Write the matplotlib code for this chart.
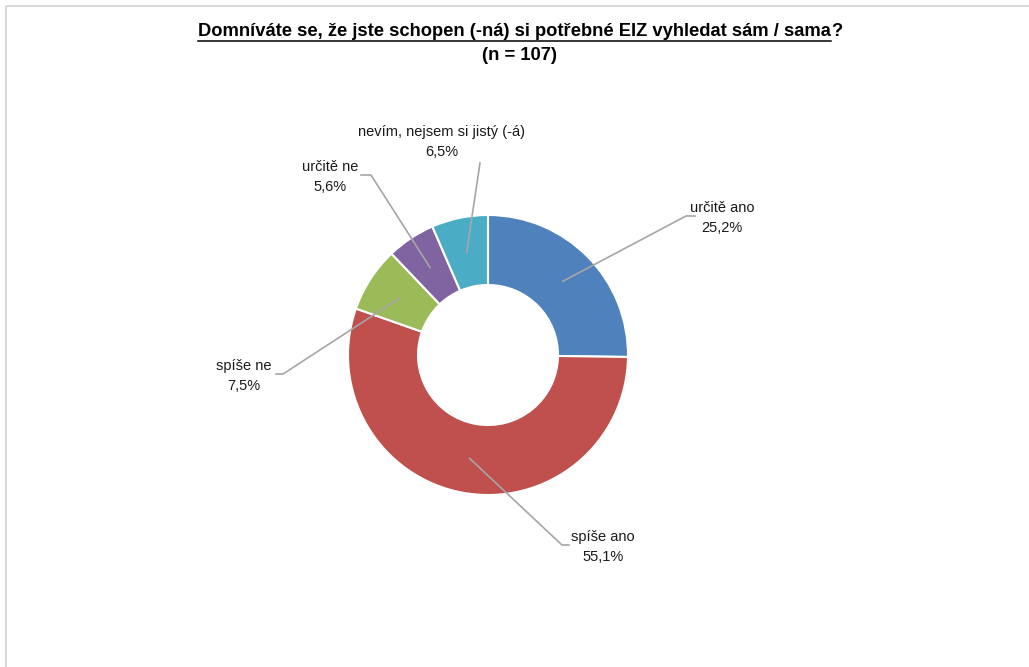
import matplotlib
matplotlib.use("Agg")
import matplotlib.pyplot as plt
from matplotlib import font_manager
import numpy as np

categories = ["určitě ano", "spíše ano", "spíše ne", "určitě ne", "nevím, nejsem si jistý (-á)"]
values = [25.2, 55.1, 7.5, 5.6, 6.5]
value_labels = ["25,2%", "55,1%", "7,5%", "5,6%", "6,5%"]
colors = ["#4F81BD", "#C0504D", "#9BBB59", "#8064A2", "#4BACC6"]
title_main = "Domníváte se, že jste schopen (-ná) si potřebné EIZ vyhledat sám / sama"
title_n = "(n = 107)"

names = {f.name for f in font_manager.fontManager.ttflist}
fam = "Liberation Sans Narrow" if "Liberation Sans Narrow" in names else "Liberation Sans"

W, H = 1029, 667
fig = plt.figure(figsize=(W / 100, H / 100), dpi=100)
ax = fig.add_axes([0, 0, 1, 1])
ax.set_xlim(0, W)
ax.set_ylim(0, H)
ax.set_aspect("equal")
ax.axis("off")

# border
ax.plot([5.5, 5.5, W + 5], [-5, H - 5.5, H - 5.5], color="#D9D9D9", lw=1.5, clip_on=False)

cx, cy = 488, H - 355
R = 140
ring = 0.5
wedges, _ = ax.pie(values, colors=colors, startangle=90, counterclock=False,
                   center=(cx, cy), radius=R, frame=True,
                   wedgeprops=dict(width=R * ring, edgecolor="white", linewidth=1.5))
ax.set_xlim(0, W)
ax.set_ylim(0, H)
ax.axis("off")

# label layout (pixel positions, y from top): text center x, first line y, elbow, horizontal end
layout = [
    (722, 208, (686, 216), (695, 216)),
    (603, 537, (562, 545), (569, 545)),
    (244, 366, (283, 374), (276, 374)),
    (330, 167, (371, 175), (361, 175)),
    (442, 132, (480, 163), (480, 163)),
]
rmid = R * (1 - ring / 2)
for w, cat, vl, (tx, ty, elb, hend) in zip(wedges, categories, value_labels, layout):
    ang = np.deg2rad((w.theta1 + w.theta2) / 2)
    sx, sy = cx + rmid * np.cos(ang), cy + rmid * np.sin(ang)
    ax.plot([sx, elb[0], hend[0]], [sy, H - elb[1], H - hend[1]], color="#A6A6A6", lw=1.2)
    ax.text(tx, H - ty, cat, ha="center", va="center", fontsize=10.5, family=fam, color="#1a1a1a")
    ax.text(tx, H - ty - 20, vl, ha="center", va="center", fontsize=10.5, family=fam, color="#1a1a1a")

# title with underline
fig.canvas.draw()
r = fig.canvas.get_renderer()
t1 = ax.text(0, H - 31, title_main, ha="left", va="center", fontsize=13.2, weight="bold", family=fam)
t2 = ax.text(0, H - 31, "?", ha="left", va="center", fontsize=13.2, weight="bold", family=fam)
b1 = t1.get_window_extent(r)
b2 = t2.get_window_extent(r)
total = b1.width + b2.width
x0 = 520 - total / 2
t1.set_x(x0)
t2.set_x(x0 + b1.width)
ax.plot([x0, x0 + b1.width], [H - 40.5, H - 40.5], color="black", lw=1.1)
ax.text(519, H - 56, title_n, ha="center", va="center", fontsize=13.2, weight="bold", family=fam)

fig.savefig("out.png", dpi=100)
